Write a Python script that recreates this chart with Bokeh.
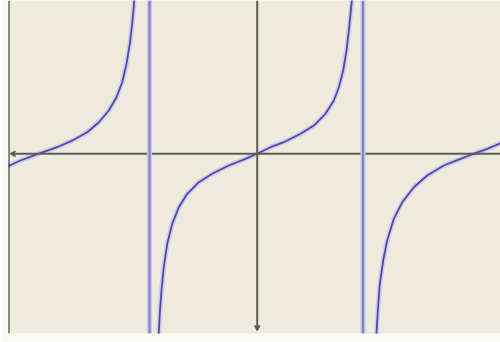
from bokeh.plotting import figure
from bokeh.models import Range1d, Span, Arrow, VeeHead
from bokeh.embed import file_html
from bokeh.resources import INLINE

# Values (x in radians, y in tan units)
left_x = [-3.678, -3.491, -3.221, -2.950, -2.705, -2.507, -2.336, -2.189, -2.075,
          -1.991, -1.928, -1.879, -1.844, -1.820, -1.810]
left_y = [-0.338, -0.184, 0.0, 0.176, 0.376, 0.581, 0.851, 1.168, 1.527,
          1.932, 2.430, 2.970, 3.511, 3.978, 4.28]

mid_x = [-1.456, -1.451, -1.437, -1.412, -1.378, -1.327, -1.254, -1.156, -1.032,
         -0.861, -0.664, -0.419, -0.173, 0.0, 0.196, 0.392, 0.639, 0.835, 1.007,
         1.130, 1.204, 1.268, 1.317, 1.351, 1.376, 1.391, 1.400]
mid_y = [-5.03, -4.824, -4.327, -3.697, -3.068, -2.435, -1.895, -1.446, -1.084,
         -0.770, -0.543, -0.319, -0.138, 0.0, 0.176, 0.311, 0.538, 0.762, 1.078,
         1.438, 1.797, 2.249, 2.789, 3.330, 3.781, 4.051, 4.25]

right_x = [1.757, 1.760, 1.779, 1.808, 1.858, 1.917, 2.015, 2.139, 2.310, 2.507,
           2.752, 2.999, 3.195, 3.392, 3.588]
right_y = [-5.05, -4.824, -4.238, -3.516, -2.886, -2.346, -1.759, -1.311, -0.905,
           -0.589, -0.319, -0.138, 0.0, 0.132, 0.284]

asymptotes = [-1.588, 1.560]

X_MIN, X_MAX = -3.668, 3.588
Y_MIN, Y_MAX = -4.859, 4.141

BG = "#EEEBDC"
CURVE = "#4F4AA2"
GLOW = "#C9C6F0"
VLINE = "#8582CC"
AXIS = "#5E5D50"

p = figure(width=500, height=342, output_backend="svg", toolbar_location=None,
           x_axis_type=None, y_axis_type=None,
           min_border_left=8, min_border_right=0, min_border_top=0, min_border_bottom=9,
           x_range=Range1d(X_MIN, X_MAX), y_range=Range1d(Y_MIN, Y_MAX))
p.background_fill_color = BG
p.border_fill_color = "#FAFAF8"
p.outline_line_color = None
p.grid.visible = False

# axes with small arrowheads
p.add_layout(Arrow(end=VeeHead(size=5, line_color=AXIS, line_width=1.5),
                   x_start=X_MAX, y_start=0, x_end=-3.639, y_end=0,
                   line_color=AXIS, line_width=2))
p.add_layout(Arrow(end=VeeHead(size=5, line_color=AXIS, line_width=1.5),
                   x_start=0, y_start=Y_MAX, x_end=0, y_end=-4.778,
                   line_color=AXIS, line_width=2))

# vertical asymptote strokes
for a in asymptotes:
    p.add_layout(Span(location=a, dimension="height", line_color=GLOW, line_width=5))
    p.add_layout(Span(location=a, dimension="height", line_color=VLINE, line_width=2.2))

# curves
for xs, ys in [(left_x, left_y), (mid_x, mid_y), (right_x, right_y)]:
    p.line(xs, ys, line_color=GLOW, line_width=5, line_alpha=0.8)
    p.line(xs, ys, line_color=CURVE, line_width=1.8)

# left frame edge
p.add_layout(Span(location=X_MIN, dimension="height", line_color="#202020", line_width=2))

open("out.html", "w").write(file_html(p, INLINE))
